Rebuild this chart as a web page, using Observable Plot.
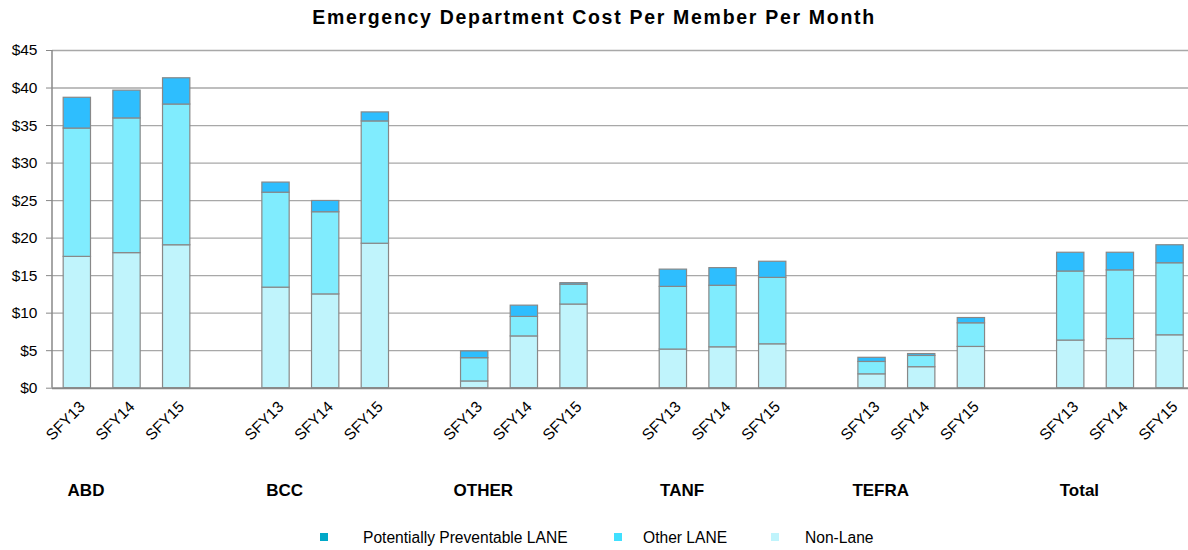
<!DOCTYPE html>
<html>
<head>
<meta charset="utf-8">
<script src="https://cdn.jsdelivr.net/npm/d3@7"></script>
<script src="https://cdn.jsdelivr.net/npm/@observablehq/plot@0.6"></script>
<style>
  html, body { margin: 0; padding: 0; background: #fff; }
  body { width: 1188px; height: 550px; overflow: hidden; position: relative;
         font-family: "Liberation Sans", Arial, sans-serif; color: #000; }
  #title { height: 35px; line-height: 35px; text-align: center; font-weight: bold;
           font-size: 19.5px; letter-spacing: 1.7px; white-space: nowrap; }
  #chart svg { display: block; overflow: visible; }
  #legend { position: absolute; left: 0; top: 520px; width: 1188px; height: 35px; font-size: 15.6px; }
  #legend .sw { position: absolute; width: 8px; height: 8px; top: 13px; }
  #legend .lb { position: absolute; top: 0; line-height: 35px; white-space: nowrap; }
</style>
</head>
<body>
<div id="title"></div>
<div id="chart"></div>
<div id="legend"></div>
<script>
const titleText = "Emergency Department Cost Per Member Per Month";
const groups = ["ABD", "BCC", "OTHER", "TANF", "TEFRA", "Total"];
const years = ["SFY13", "SFY14", "SFY15"];
const seriesNames = ["Potentially Preventable LANE", "Other LANE", "Non-Lane"];
// values per bar, in order groups x years
const nonLane   = [17.5, 18.0, 19.05, 13.4, 12.5, 19.25, 0.9, 6.9, 11.15, 5.15, 5.45, 5.85, 1.85, 2.8, 5.5, 6.35, 6.55, 7.05];
const otherLane = [17.1, 17.95, 18.75, 12.65, 10.95, 16.3, 3.1, 2.6, 2.65, 8.35, 8.2, 8.85, 1.65, 1.5, 3.15, 9.2, 9.15, 9.6];
const ppLane    = [4.1, 3.7, 3.5, 1.35, 1.5, 1.2, 0.9, 1.5, 0.2, 2.3, 2.35, 2.15, 0.55, 0.25, 0.7, 2.5, 2.35, 2.4];
const yTicks = [0, 5, 10, 15, 20, 25, 30, 35, 40, 45];
const barColors = ["#2ebefe", "#80ecfe", "#c0f4fc"];
const legendColors = ["#00a8c8", "#40e0ff", "#c0f4fc"];

document.getElementById("title").textContent = titleText;

const rows = [];
const domain = [];
const yearRows = [];
groups.forEach((g, gi) => {
  if (gi > 0) domain.push("gap" + gi);
  years.forEach((yr, yi) => {
    const i = gi * years.length + yi;
    const key = g + " " + yr;
    domain.push(key);
    yearRows.push({key, year: yr});
    rows.push({key, series: seriesNames[2], value: nonLane[i]});
    rows.push({key, series: seriesNames[1], value: otherLane[i]});
    rows.push({key, series: seriesNames[0], value: ppLane[i]});
  });
});
const groupRows = groups.map(g => ({key: g + " " + years[1], label: g}));

const chart = Plot.plot({
  width: 1188,
  height: 480,
  marginLeft: 52,
  marginRight: -6.4,
  marginTop: 15,
  marginBottom: 127.3,
  style: {fontFamily: "'Liberation Sans', Arial, sans-serif", fontSize: "15px", color: "#000", background: "transparent"},
  x: {domain, axis: null, paddingInner: 0.45, paddingOuter: 0.225, round: false},
  y: {domain: [0, 45], axis: null},
  color: {domain: seriesNames, range: barColors},
  marks: [
    Plot.ruleY(yTicks.slice(1), {stroke: "#a8a8a8", strokeWidth: 1.3}),
    Plot.axisY({ticks: yTicks, tickFormat: d => "$" + d, tickSize: 6, tickPadding: 9, stroke: "#888", fontSize: 15.5, label: null}),
    Plot.barY(rows, {x: "key", y: "value", z: "series", fill: "series", order: [seriesNames[2], seriesNames[1], seriesNames[0]], stroke: "#888", strokeWidth: 1.2}),
    Plot.ruleY([0], {stroke: "#888", strokeWidth: 2}),
    (index, scales, values, dims) => {
      const line = d3.create("svg:line")
        .attr("x1", dims.marginLeft)
        .attr("x2", dims.marginLeft)
        .attr("y1", scales.y(0))
        .attr("y2", scales.y(45))
        .attr("stroke", "#888")
        .attr("stroke-width", 1.5);
      return line.node();
    },
    Plot.text(yearRows, {x: "key", y: () => 0, text: "year", rotate: -45, textAnchor: "end", dx: 5, dy: 16, fontSize: 15.5, fill: "#000"}),
    Plot.text(groupRows, {x: "key", y: () => 0, text: "label", dx: -41, dy: 102, fontSize: 17, fontWeight: "bold", fill: "#000"})
  ]
});
document.getElementById("chart").appendChild(chart);

const legendPos = [[320, 363], [614, 643], [771, 805]];
const legend = document.getElementById("legend");
seriesNames.forEach((s, i) => {
  const sw = document.createElement("div");
  sw.className = "sw";
  sw.style.left = legendPos[i][0] + "px";
  sw.style.background = legendColors[i];
  legend.appendChild(sw);
  const lb = document.createElement("div");
  lb.className = "lb";
  lb.style.left = legendPos[i][1] + "px";
  lb.textContent = s;
  legend.appendChild(lb);
});
</script>
</body>
</html>
